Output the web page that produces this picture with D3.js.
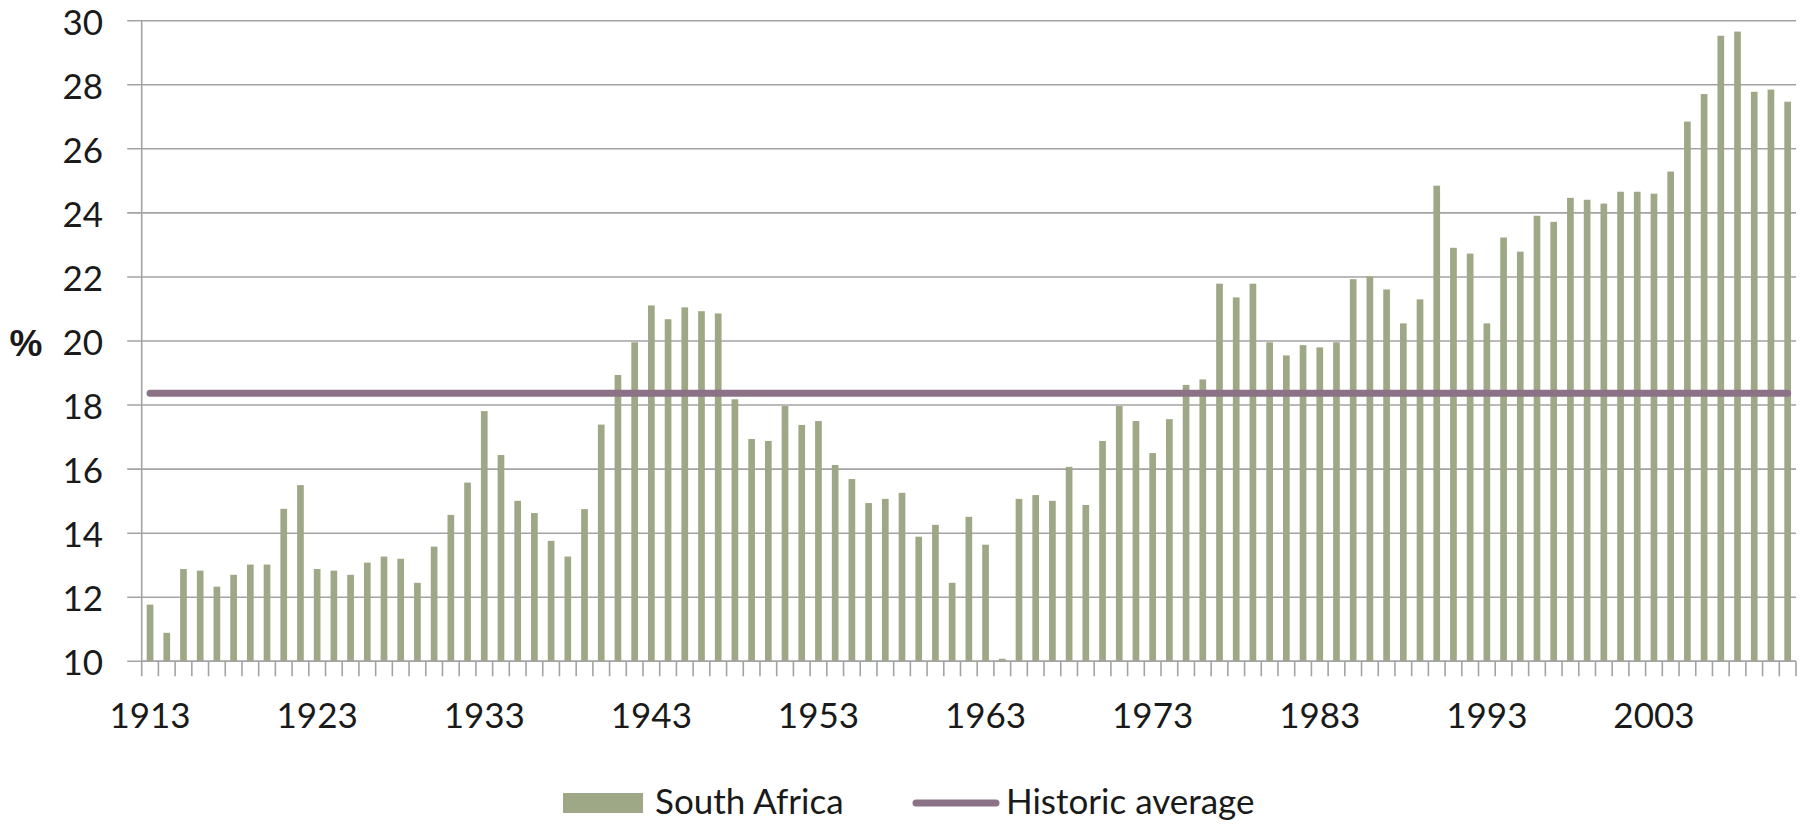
<!DOCTYPE html>
<html>
<head>
<meta charset="utf-8">
<script src="https://cdn.jsdelivr.net/npm/d3@7"></script>
<style>
  html, body { margin: 0; padding: 0; background: #fff; }
  svg { display: block; }
  text { font-family: Lato, "Liberation Sans", sans-serif; fill: #1a1a1a; }
</style>
</head>
<body>
<svg id="chart" width="1810" height="825"></svg>
<script>
const years = d3.range(1913, 2012);
const southAfrica = [
  11.77, 10.89, 12.88, 12.83, 12.33, 12.70, 13.02, 13.02, 14.76, 15.50,
  12.88, 12.83, 12.70, 13.08, 13.27, 13.20, 12.45, 13.58, 14.57, 15.58,
  17.81, 16.44, 15.01, 14.63, 13.76, 13.27, 14.75, 17.39, 18.94, 19.96,
  21.11, 20.68, 21.05, 20.93, 20.86, 18.18, 16.94, 16.88, 17.97, 17.38,
  17.50, 16.13, 15.69, 14.94, 15.07, 15.26, 13.89, 14.26, 12.45, 14.51,
  13.64, 10.08, 15.07, 15.19, 15.01, 16.07, 14.88, 16.88, 17.97, 17.50,
  16.50, 17.56, 18.63, 18.80, 21.79, 21.36, 21.79, 19.96, 19.55, 19.87,
  19.80, 19.96, 21.93, 22.02, 21.61, 20.55, 21.30, 24.85, 22.91, 22.73,
  20.55, 23.23, 22.79, 23.91, 23.72, 24.47, 24.41, 24.29, 24.66, 24.66,
  24.60, 25.29, 26.85, 27.71, 29.53, 29.66, 27.78, 27.85, 27.47
];
const historicAverage = 18.37;
const yTicks = [10, 12, 14, 16, 18, 20, 22, 24, 26, 28, 30];
const xLabelYears = [1913, 1923, 1933, 1943, 1953, 1963, 1973, 1983, 1993, 2003];
const seriesNames = ["South Africa", "Historic average"];

const barColor = "#9ea786";
const avgColor = "#8b7286";
const gridColor = "#a3a3a3";

const svg = d3.select("#chart");
const pLeft = 141.7, pRight = 1796, pTop = 20.7, pBottom = 661.3;

const x = d3.scaleBand().domain(years).range([pLeft, pRight])
  .paddingInner(0.6).paddingOuter(0.3);
const xb = d3.scaleLinear().domain([0, years.length]).range([pLeft, pRight]);
const y = d3.scaleLinear().domain([10, 30]).range([pBottom, pTop]);

// gridlines
svg.append("g").selectAll("line").data(yTicks).join("line")
  .attr("x1", pLeft - 14.5).attr("x2", pRight)
  .attr("y1", d => y(d)).attr("y2", d => y(d))
  .attr("stroke", gridColor).attr("stroke-width", 1.6);

// y axis line
svg.append("line").attr("x1", pLeft).attr("x2", pLeft)
  .attr("y1", pTop).attr("y2", pBottom)
  .attr("stroke", gridColor).attr("stroke-width", 1.6);

// y tick labels
svg.append("g").selectAll("text").data(yTicks).join("text")
  .attr("x", 103).attr("y", d => y(d) + 1.5).attr("dy", "0.36em")
  .attr("text-anchor", "end").attr("font-size", 35)
  .text(d => d);

// % label
svg.append("text").attr("x", 26).attr("y", (pTop + pBottom) / 2 + 2).attr("dy", "0.36em")
  .attr("text-anchor", "middle").attr("font-size", 37).attr("font-weight", "bold")
  .style("font-family", "'Liberation Sans Narrow', 'Liberation Sans', sans-serif")
  .text("%");

// bars
svg.append("g").selectAll("rect").data(years).join("rect")
  .attr("x", d => x(d)).attr("width", x.bandwidth())
  .attr("y", (d, i) => y(southAfrica[i]))
  .attr("height", (d, i) => y(10) - y(southAfrica[i]))
  .attr("fill", barColor);

// x axis line and ticks
svg.append("line").attr("x1", pLeft).attr("x2", pRight)
  .attr("y1", pBottom).attr("y2", pBottom)
  .attr("stroke", gridColor).attr("stroke-width", 1.6);
svg.append("g").selectAll("line").data(d3.range(years.length + 1)).join("line")
  .attr("x1", d => xb(d)).attr("x2", d => xb(d))
  .attr("y1", pBottom).attr("y2", pBottom + 15)
  .attr("stroke", gridColor).attr("stroke-width", 1.6);

// x labels
svg.append("g").selectAll("text").data(xLabelYears).join("text")
  .attr("x", d => x(d) + x.bandwidth() / 2).attr("y", 728)
  .attr("text-anchor", "middle").attr("font-size", 35)
  .text(d => d);

// historic average line
const line = d3.line().x(d => x(d) + x.bandwidth() / 2).y(() => y(historicAverage));
svg.append("path").datum([years[0], years[years.length - 1]])
  .attr("d", line).attr("fill", "none")
  .attr("stroke", avgColor).attr("stroke-width", 7).attr("stroke-linecap", "round");

// legend
const lg = svg.append("g");
lg.append("rect").attr("x", 563).attr("y", 793).attr("width", 80).attr("height", 20)
  .attr("fill", barColor);
lg.append("text").attr("x", 655).attr("y", 814).attr("font-size", 35).text(seriesNames[0]);
lg.append("line").attr("x1", 916).attr("x2", 996).attr("y1", 803).attr("y2", 803)
  .attr("stroke", avgColor).attr("stroke-width", 7).attr("stroke-linecap", "round");
lg.append("text").attr("x", 1006).attr("y", 814).attr("font-size", 35).text(seriesNames[1]);
</script>
</body>
</html>
